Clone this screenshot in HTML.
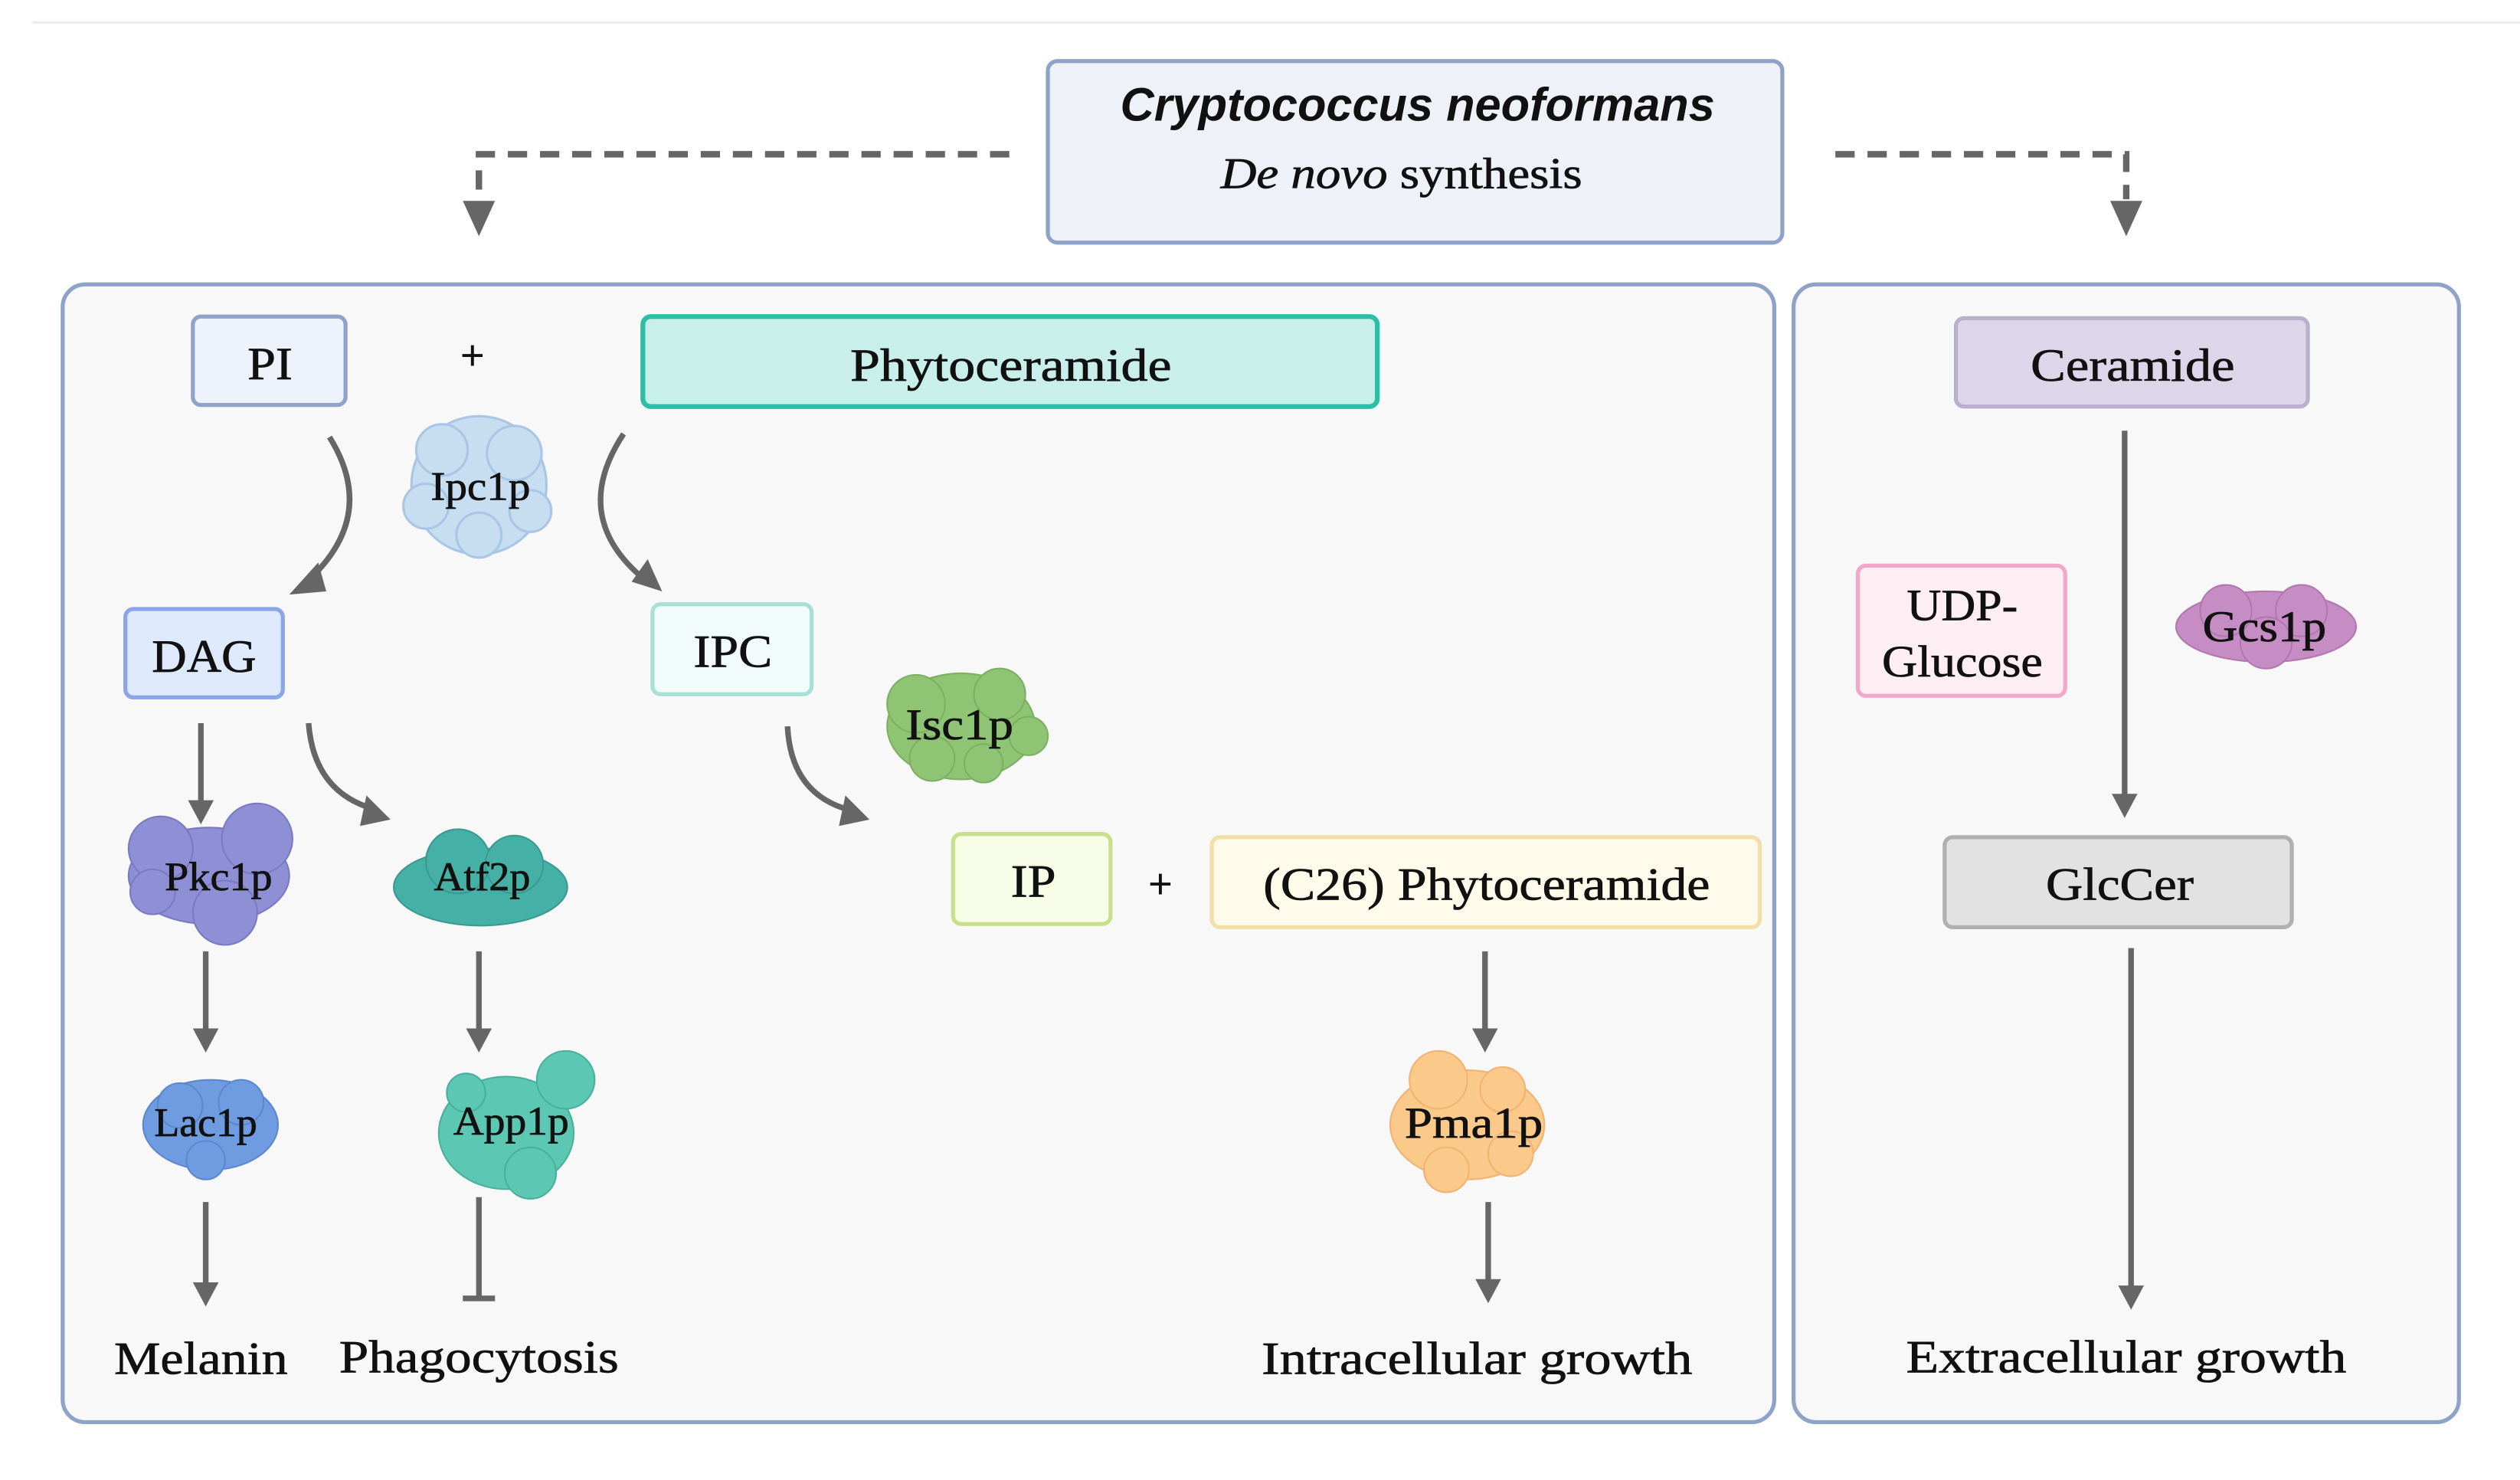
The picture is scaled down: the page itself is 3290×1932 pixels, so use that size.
<!DOCTYPE html>
<html><head><meta charset="utf-8"><style>
html,body{margin:0;padding:0;background:#fff;}
svg{display:block;}
.t{font-family:"Liberation Serif",serif;fill:#111;text-anchor:middle;stroke:#111;stroke-width:0.35;}
</style></head><body>
<svg width="3290" height="1932" viewBox="0 0 1568 921" preserveAspectRatio="none" xmlns="http://www.w3.org/2000/svg">
<rect width="1568" height="921" fill="#fff"/>
<line x1="20" y1="14" x2="1568" y2="14" stroke="#eee" stroke-width="1.5"/>

<rect x="652" y="38" width="457" height="113" rx="6" fill="#eef2f8" stroke="#8fa3c8" stroke-width="2.5"/>
<text x="882" y="75" font-family="Liberation Sans, sans-serif" font-weight="bold" font-style="italic" font-size="29" text-anchor="middle" fill="#111" textLength="370" lengthAdjust="spacingAndGlyphs">Cryptococcus neoformans</text>
<text x="872" y="117" class="t" font-size="27" textLength="225" lengthAdjust="spacingAndGlyphs"><tspan font-style="italic">De novo</tspan> synthesis</text>

<g stroke="#666" stroke-width="4" fill="none" stroke-dasharray="12,8">
<path d="M628 96 H298 V124"/>
<path d="M1142 96 H1323 V124"/>
</g>
<polygon points="288,125 308,125 298,147" fill="#666"/>
<polygon points="1313,125 1333,125 1323,147" fill="#666"/>

<rect x="39" y="177" width="1065" height="708" rx="14" fill="#f8f8f8" stroke="#8fa3c8" stroke-width="2.5"/>
<rect x="1116" y="177" width="414" height="708" rx="14" fill="#f8f8f8" stroke="#8fa3c8" stroke-width="2.5"/>

<rect x="120" y="197" width="95" height="55" rx="5" fill="#eef2fb" stroke="#8fa3c8" stroke-width="2.5"/>
<text x="168" y="236" class="t" font-size="29" textLength="28" lengthAdjust="spacingAndGlyphs">PI</text>
<text x="294" y="230" font-family="Liberation Sans, sans-serif" font-size="26" text-anchor="middle" fill="#111">+</text>
<rect x="400" y="197" width="457" height="56" rx="5" fill="#c8efe9" stroke="#2bbfa8" stroke-width="3"/>
<text x="629" y="237" class="t" font-size="29" textLength="200" lengthAdjust="spacingAndGlyphs">Phytoceramide</text>
<rect x="78" y="379" width="98" height="55" rx="5" fill="#dfe9fc" stroke="#8aa6e8" stroke-width="2.5"/>
<text x="127" y="418" class="t" font-size="29" textLength="65" lengthAdjust="spacingAndGlyphs">DAG</text>
<rect x="406" y="376" width="99" height="56" rx="5" fill="#f0fbfa" stroke="#a8e0d8" stroke-width="2.5"/>
<text x="456" y="415" class="t" font-size="29" textLength="49" lengthAdjust="spacingAndGlyphs">IPC</text>
<rect x="593" y="519" width="98" height="56" rx="5" fill="#f8fde8" stroke="#c8e08c" stroke-width="2.5"/>
<text x="643" y="558" class="t" font-size="29" textLength="28" lengthAdjust="spacingAndGlyphs">IP</text>
<text x="722" y="559" font-family="Liberation Sans, sans-serif" font-size="26" text-anchor="middle" fill="#111">+</text>
<rect x="754" y="521" width="341" height="56" rx="5" fill="#fffbea" stroke="#f0e0a8" stroke-width="2.5"/>
<text x="925" y="560" class="t" font-size="29" textLength="278" lengthAdjust="spacingAndGlyphs">(C26) Phytoceramide</text>

<rect x="1217" y="198" width="219" height="55" rx="5" fill="#dcd6ea" stroke="#b8b0cc" stroke-width="2.5"/>
<text x="1327" y="237" class="t" font-size="29" textLength="127" lengthAdjust="spacingAndGlyphs">Ceramide</text>
<rect x="1156" y="352" width="129" height="81" rx="5" fill="#fdeef4" stroke="#f2a8c8" stroke-width="2.5"/>
<text x="1221" y="386" class="t" font-size="28" textLength="69" lengthAdjust="spacingAndGlyphs">UDP-</text>
<text x="1221" y="421" class="t" font-size="28" textLength="100" lengthAdjust="spacingAndGlyphs">Glucose</text>
<rect x="1210" y="521" width="216" height="56" rx="5" fill="#e2e2e2" stroke="#b0b0b0" stroke-width="2.5"/>
<text x="1319" y="560" class="t" font-size="29" textLength="92" lengthAdjust="spacingAndGlyphs">GlcCer</text>

<g stroke="#666" stroke-width="3.5" fill="none">
<path d="M205 272 Q235 320 193 360"/>
<path d="M388 270 Q355 320 398 358"/>
<path d="M490 452 Q492 492 525 503"/>
<path d="M192 450 Q195 490 228 502"/>
<line x1="125" y1="450" x2="125" y2="500"/>
<line x1="128" y1="592" x2="128" y2="642"/>
<line x1="298" y1="592" x2="298" y2="642"/>
<line x1="128" y1="748" x2="128" y2="800"/>
<line x1="298" y1="745" x2="298" y2="808"/>
<line x1="288" y1="808" x2="308" y2="808"/>
<line x1="924" y1="592" x2="924" y2="642"/>
<line x1="926" y1="748" x2="926" y2="798"/>
<line x1="1322" y1="268" x2="1322" y2="496"/>
<line x1="1326" y1="590" x2="1326" y2="802"/>
</g>
<g fill="#666">
<polygon points="180,370 198,350 203,368"/>
<polygon points="412,368 393,362 403,348"/>
<polygon points="541,510 522,514 526,495"/>
<polygon points="243,510 224,514 228,495"/>
<polygon points="117,498 133,498 125,513"/>
<polygon points="120,640 136,640 128,655"/>
<polygon points="290,640 306,640 298,655"/>
<polygon points="120,798 136,798 128,813"/>
<polygon points="916,640 932,640 924,655"/>
<polygon points="918,796 934,796 926,811"/>
<polygon points="1314,494 1330,494 1322,509"/>
<polygon points="1318,800 1334,800 1326,815"/>
</g>

<g fill="#c7ddf0" stroke="#a9c6e6" stroke-width="1.5">
<ellipse cx="298" cy="302" rx="42" ry="43"/>
<circle cx="275" cy="280" r="16"/><circle cx="320" cy="282" r="17"/><circle cx="265" cy="315" r="14"/><circle cx="330" cy="318" r="13"/><circle cx="298" cy="333" r="14"/>
</g>
<g fill="#8fc474" stroke="#7ab060" stroke-width="1">
<ellipse cx="598" cy="452" rx="46" ry="33"/>
<circle cx="570" cy="438" r="18"/><circle cx="622" cy="432" r="16"/><circle cx="640" cy="458" r="12"/><circle cx="580" cy="472" r="14"/><circle cx="612" cy="475" r="12"/>
</g>
<g fill="#8f8fd6" stroke="#7a7ac4" stroke-width="1">
<ellipse cx="130" cy="545" rx="50" ry="30"/>
<circle cx="100" cy="528" r="20"/><circle cx="160" cy="522" r="22"/><circle cx="140" cy="568" r="20"/><circle cx="95" cy="555" r="14"/>
</g>
<g fill="#44b0a6" stroke="#3a9a90" stroke-width="1">
<ellipse cx="299" cy="552" rx="54" ry="24"/>
<circle cx="285" cy="536" r="20"/><circle cx="320" cy="538" r="18"/>
</g>
<g fill="#6f9ce0" stroke="#5a88d0" stroke-width="1">
<ellipse cx="131" cy="700" rx="42" ry="28"/>
<circle cx="112" cy="688" r="14"/><circle cx="150" cy="686" r="14"/><circle cx="128" cy="722" r="12"/>
</g>
<g fill="#5cc8b4" stroke="#48b09c" stroke-width="1">
<ellipse cx="315" cy="705" rx="42" ry="35"/>
<circle cx="352" cy="672" r="18"/><circle cx="290" cy="680" r="12"/><circle cx="330" cy="730" r="16"/>
</g>
<g fill="#fbc98a" stroke="#f0b470" stroke-width="1">
<ellipse cx="913" cy="700" rx="48" ry="34"/>
<circle cx="895" cy="672" r="18"/><circle cx="935" cy="678" r="14"/><circle cx="900" cy="728" r="14"/><circle cx="940" cy="718" r="14"/>
</g>
<g fill="#c68cc4" stroke="#b078ae" stroke-width="1">
<ellipse cx="1410" cy="390" rx="56" ry="22"/>
<circle cx="1385" cy="380" r="16"/><circle cx="1432" cy="380" r="16"/><circle cx="1410" cy="400" r="16"/>
</g>

<text x="299" y="311" class="t" font-size="25" textLength="62" lengthAdjust="spacingAndGlyphs">Ipc1p</text>
<text x="597" y="460" class="t" font-size="27" textLength="67" lengthAdjust="spacingAndGlyphs">Isc1p</text>
<text x="136" y="554" class="t" font-size="25" textLength="67" lengthAdjust="spacingAndGlyphs">Pkc1p</text>
<text x="300" y="554" class="t" font-size="25" textLength="60" lengthAdjust="spacingAndGlyphs">Atf2p</text>
<text x="128" y="707" class="t" font-size="25" textLength="64" lengthAdjust="spacingAndGlyphs">Lac1p</text>
<text x="318" y="706" class="t" font-size="25" textLength="72" lengthAdjust="spacingAndGlyphs">App1p</text>
<text x="917" y="708" class="t" font-size="27" textLength="86" lengthAdjust="spacingAndGlyphs">Pma1p</text>
<text x="1409" y="399" class="t" font-size="27" textLength="77" lengthAdjust="spacingAndGlyphs">Gcs1p</text>

<text x="125" y="855" class="t" font-size="29" textLength="108" lengthAdjust="spacingAndGlyphs">Melanin</text>
<text x="298" y="854" class="t" font-size="29" textLength="174" lengthAdjust="spacingAndGlyphs">Phagocytosis</text>
<text x="919" y="855" class="t" font-size="29" textLength="268" lengthAdjust="spacingAndGlyphs">Intracellular growth</text>
<text x="1323" y="854" class="t" font-size="29" textLength="274" lengthAdjust="spacingAndGlyphs">Extracellular growth</text>
</svg>
</body></html>
